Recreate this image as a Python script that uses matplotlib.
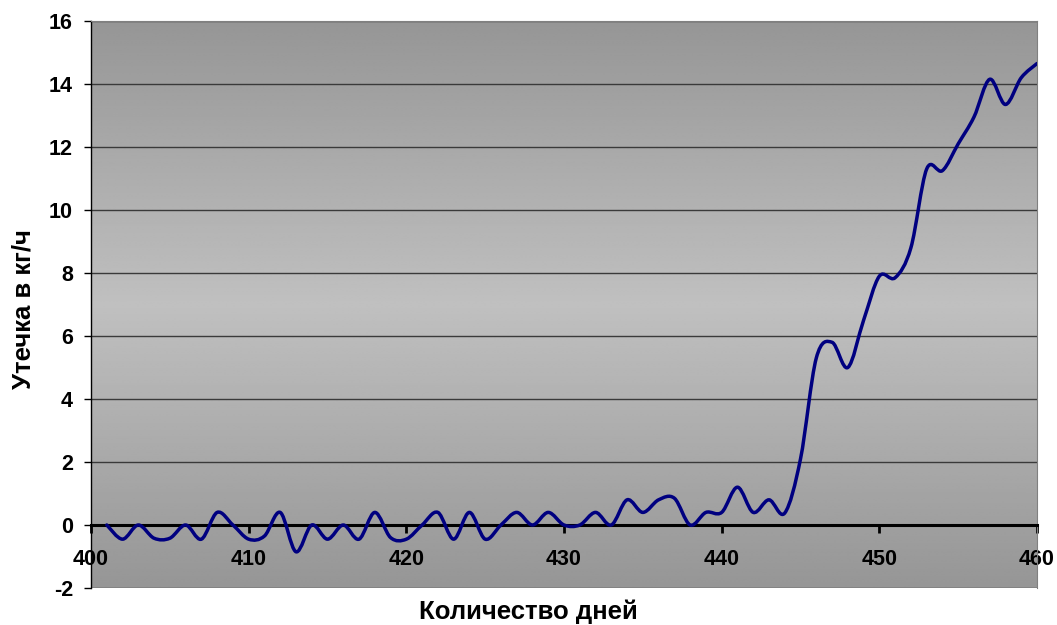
import numpy as np
import matplotlib
matplotlib.use("Agg")
import matplotlib.pyplot as plt
from matplotlib.path import Path
from matplotlib.patches import PathPatch

plt.rcParams['font.family'] = ['Liberation Sans', 'DejaVu Sans']
plt.rcParams['font.weight'] = 'bold'
plt.rcParams['axes.unicode_minus'] = False

# data
days = list(range(401, 461))
leak = [0, -0.45, 0, -0.42, -0.42, 0, -0.45, 0.4, 0.0, -0.45,
        -0.35, 0.4, -0.85, 0, -0.45, 0, -0.45, 0.4, -0.4, -0.45,
        0, 0.4, -0.45, 0.4, -0.45, 0, 0.4, 0, 0.4, 0,
        0, 0.4, 0, 0.8, 0.4, 0.8, 0.85, 0, 0.4, 0.4,
        1.2, 0.4, 0.8, 0.38, 2.1, 5.3, 5.8, 5.0, 6.5, 7.9,
        7.85, 8.8, 11.3, 11.25, 12.1, 12.95, 14.15, 13.35, 14.2, 14.65]
x_ticks = [400, 410, 420, 430, 440, 450, 460]
y_ticks = [-2, 0, 2, 4, 6, 8, 10, 12, 14, 16]

fig = plt.figure(figsize=(10.57, 6.25), dpi=100)
ax = fig.add_axes([0.0861, 0.0592, 0.8950, 0.9072])

# gray gradient background, dark at top and bottom, light in the middle
t = np.linspace(0, 1, 256)
shade = 0.588 + (0.753 - 0.588) * (1 - np.abs(2 * t - 1))
grad = np.repeat(shade[:, None], 2, axis=1)
ax.imshow(grad, cmap='gray', vmin=0, vmax=1, aspect='auto',
          extent=[0, 1, 0, 1], transform=ax.transAxes, zorder=0,
          interpolation='bilinear')

# smoothed line (Excel-like Catmull-Rom bezier through the points)
pts = np.column_stack([days, leak]).astype(float)
ext = np.vstack([pts[0], pts, pts[-1]])
verts = [tuple(pts[0])]
codes = [Path.MOVETO]
for i in range(1, len(ext) - 2):
    p0, p1, p2, p3 = ext[i - 1], ext[i], ext[i + 1], ext[i + 2]
    c1 = p1 + (p2 - p0) / 6
    c2 = p2 - (p3 - p1) / 6
    verts += [tuple(c1), tuple(c2), tuple(p2)]
    codes += [Path.CURVE4] * 3
ax.add_patch(PathPatch(Path(verts, codes), fill=False, edgecolor='#000080',
                       lw=2.5, zorder=3, capstyle='round', joinstyle='round'))

ax.set_xlim(400, 460)
ax.set_ylim(-2, 16)
ax.set_xticks(x_ticks)
ax.set_yticks(y_ticks)
ax.tick_params(axis='both', labelsize=15.5)
ax.tick_params(axis='x', direction='out', length=6, width=2, pad=11)
ax.tick_params(axis='y', direction='out', length=5, width=1, pad=8)

ax.yaxis.grid(True, color='#3a3a3a', lw=1)
ax.set_axisbelow(True)

ax.spines['bottom'].set_position(('data', 0))
ax.spines['bottom'].set_linewidth(2.2)
ax.spines['bottom'].set_zorder(2.5)
ax.spines['left'].set_linewidth(1)
ax.spines['top'].set_color('#808080')
ax.spines['right'].set_color('#808080')

ax.set_ylabel('Утечка в кг/ч', fontsize=18.5, fontweight='bold')
ax.yaxis.set_label_coords(-0.071, 0.492)
ax.yaxis.label.set_va('center')
fig.text(0.5, 0.021, 'Количество дней', fontsize=18.5, fontweight='bold',
         ha='center', va='center')

fig.savefig('out.png', dpi=100)
